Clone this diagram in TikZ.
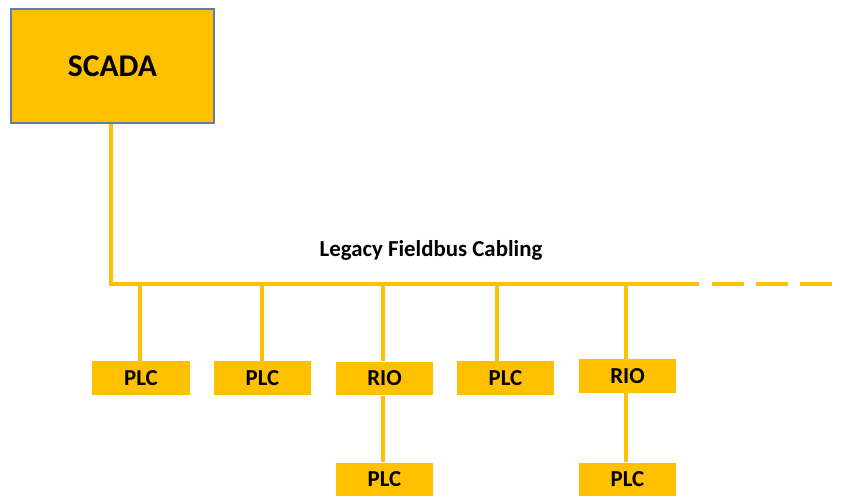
\documentclass[tikz,border=0pt]{standalone}
\usepackage{fontspec}
\setmainfont{Carlito}
\usetikzlibrary{positioning}
\definecolor{gold}{RGB}{255,192,0}
\definecolor{frameblue}{RGB}{96,126,166}
\def\BusY{284}

\tikzset{
  unit/.style={fill=gold, minimum width=1.96cm, minimum height=0.68cm, inner sep=0pt,
    font=\bfseries\fontsize{13}{15}\selectfont},
  cable/.style={draw=gold, line width=2.3pt},
}

\begin{document}
\begin{tikzpicture}[x=0.02cm, y=-0.02cm]
\useasboundingbox (0,0) rectangle (843,497);

\node[fill=gold, draw=frameblue, line width=0.9pt, minimum width=4.06cm, minimum height=2.28cm,
  font=\bfseries\fontsize{18}{20}\selectfont] (scada) at (112.5,66) {SCADA};

% bus taps
\coordinate (corner) at (111,\BusY);
\coordinate (busend) at (699,\BusY);
\coordinate (dashstart) at (712,\BusY);
\coordinate (dashend) at (833,\BusY);
\coordinate (tap1) at (140,\BusY);
\coordinate (tap2) at (262,\BusY);
\coordinate (tap3) at (383,\BusY);
\coordinate (tap4) at (497,\BusY);
\coordinate (tap5) at (626,\BusY);

\node[unit] (plc1) at (141,378) {PLC};
\node[unit] (plc2) at (262.5,378) {PLC};
\node[unit] (rio1) at (384.5,378.5) {RIO};
\node[unit] (plc3) at (505.5,378) {PLC};
\node[unit] (rio2) at (627.5,376) {RIO};
\node[unit] (plc4) at (384.5,479.5) {PLC};
\node[unit] (plc5) at (627.5,479.5) {PLC};

\node[font=\bfseries\fontsize{13}{15}\selectfont] (buslabel) at (431,250) {Legacy Fieldbus Cabling};

\draw[cable] (scada.south -| corner) -- (corner) -- (busend);
\draw[cable, dash pattern=on 0.64cm off 0.24cm] (dashstart) -- (dashend);

\draw[cable] (tap1) -- (tap1 |- plc1.north);
\draw[cable] (tap2) -- (tap2 |- plc2.north);
\draw[cable] (tap3) -- (tap3 |- rio1.north);
\draw[cable] (tap4) -- (tap4 |- plc3.north);
\draw[cable] (tap5) -- (tap5 |- rio2.north);
\draw[cable] (rio1.south -| tap3) -- (plc4.north -| tap3);
\draw[cable] (rio2.south -| tap5) -- (plc5.north -| tap5);
\end{tikzpicture}
\end{document}
